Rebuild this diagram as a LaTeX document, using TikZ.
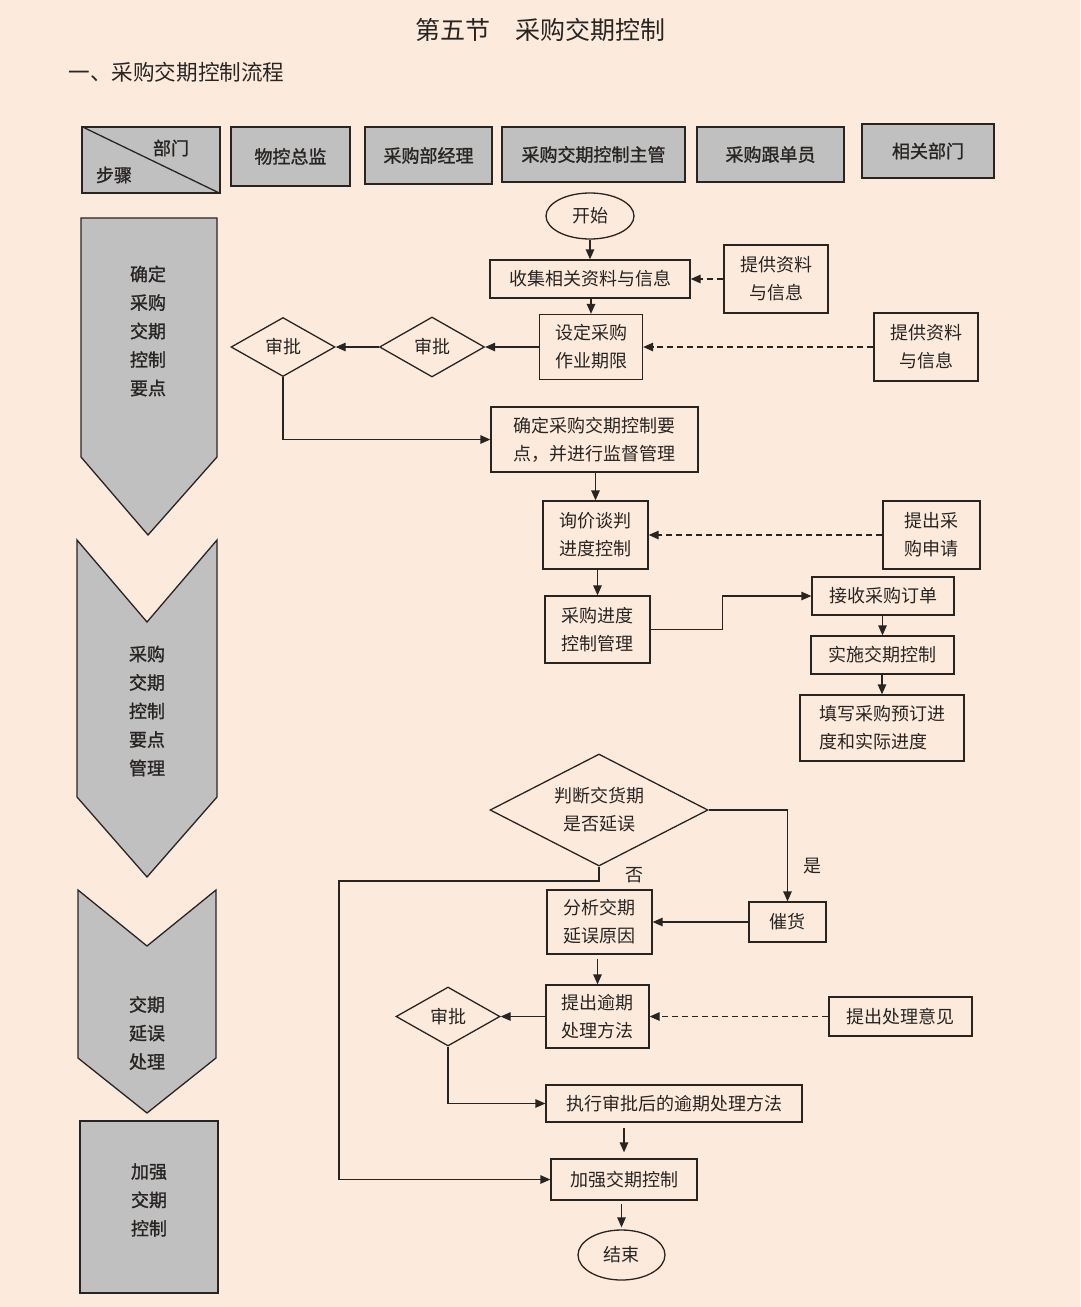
\documentclass[tikz,border=0pt]{standalone}
\usepackage{fontspec}
\newfontfamily\cjk{Noto Sans CJK SC}
\newfontfamily\cjkb{Noto Sans CJK SC}[FakeBold=1.2]
\usetikzlibrary{shapes.geometric,arrows.meta}
\definecolor{bg}{RGB}{252,235,221}
\definecolor{gr}{RGB}{192,192,192}
\definecolor{ln}{RGB}{40,36,34}
\begin{document}
\begin{tikzpicture}[x=1pt,y=-1pt,
  every node/.style={font=\cjk\fontsize{18}{28}\selectfont, text=ln},
  box/.style={draw=ln, line width=1.3pt, inner sep=0pt, align=center},
  hbox/.style={box, fill=gr, font=\cjkb\fontsize{18}{28}\selectfont},
  htxt/.style={font=\cjkb\fontsize{18}{22}\selectfont},
  dia/.style={diamond, draw=ln, line width=1.3pt, inner sep=0pt, aspect=1.75, align=center},
  term/.style={ellipse, draw=ln, line width=1.3pt, inner sep=0pt},
  lane/.style={draw=ln, line width=1.3pt, fill=gr},
  lanetxt/.style={align=center, font=\cjkb\fontsize{18}{28.5}\selectfont},
  arr/.style={draw=ln, line width=1.3pt, -{Triangle[length=10pt,width=8.5pt]}},
  darr/.style={arr, dash pattern=on 6pt off 4pt}
]
\fill[bg] (0,0) rectangle (1080,1307);
\useasboundingbox (0,0) rectangle (1080,1307);

% titles
\node (title) at (540,30) {\fontsize{25}{30}\selectfont 第五节　采购交期控制};
\node[anchor=west] (sub) at (65,72) {\fontsize{21.6}{26}\selectfont 一、采购交期控制流程};

% header row
\node[hbox, minimum width=138, minimum height=66] (h0) at (151,160) {};
\draw[line width=1.3pt, draw=ln] (h0.north west) -- (h0.south east);
\node[htxt] (bm) at (171,148) {部门};
\node[htxt] (bz) at (114,175) {步骤};
\node[hbox, minimum width=119, minimum height=59] (h1) at (290.5,156.5) {物控总监};
\node[hbox, minimum width=127, minimum height=57] (h2) at (428.5,155.5) {采购部经理};
\node[hbox, minimum width=183, minimum height=55] (h3) at (593.5,154.5) {采购交期控制主管};
\node[hbox, minimum width=147, minimum height=55] (h4) at (770.5,154.5) {采购跟单员};
\node[hbox, minimum width=132, minimum height=54] (h5) at (928,151) {相关部门};

% step lanes
\filldraw[lane] (81,218) -- (217,218) -- (217,457) -- (148,535) -- (81,457) -- cycle;
\node[lanetxt] (l1) at (148,331) {确定\\采购\\交期\\控制\\要点};
\filldraw[lane] (77,540) -- (147,622) -- (217,540) -- (217,797) -- (147,877) -- (77,797) -- cycle;
\node[lanetxt] (l2) at (147,711) {采购\\交期\\控制\\要点\\管理};
\filldraw[lane] (78,890) -- (147,946) -- (216,890) -- (216,1058) -- (147,1113) -- (78,1058) -- cycle;
\node[lanetxt] (l3) at (147,1033) {交期\\延误\\处理};
\filldraw[lane] (80,1121) rectangle (218,1293);
\node[lanetxt] (l4) at (149,1200) {加强\\交期\\控制};

% flow nodes
\node[term, minimum width=88, minimum height=46] (start) at (590,216) {开始};
\node[box, minimum width=200, minimum height=38] (shou) at (590,279) {收集相关资料与信息};
\node[box, minimum width=104, minimum height=68] (ti1) at (776,279) {提供资料\\与信息};
\node[box, minimum width=103, minimum height=65] (she) at (591,347) {设定采购\\作业期限};
\node[box, minimum width=104, minimum height=68] (ti2) at (926,347) {提供资料\\与信息};
\node[dia, minimum width=105, minimum height=60] (sp1) at (432,347) {审批};
\node[dia, minimum width=104, minimum height=59] (sp2) at (283,347) {审批};
\node[box, minimum width=207, minimum height=65] (que) at (594.5,439.5) {确定采购交期控制要\\点，并进行监督管理};
\node[box, minimum width=105, minimum height=68] (xun) at (595.5,535) {询价谈判\\进度控制};
\node[box, minimum width=97, minimum height=68] (ti3) at (931.5,535) {提出采\\购申请};
\node[box, minimum width=105, minimum height=67] (cg) at (597.5,629.5) {采购进度\\控制管理};
\node[box, minimum width=142, minimum height=38] (jie) at (883,596) {接收采购订单};
\node[box, minimum width=143, minimum height=38] (shi) at (882.5,655) {实施交期控制};
\node[box, minimum width=164, minimum height=66, align=left] (tian) at (882,728) {填写采购预订进\\度和实际进度};
\node[dia, minimum width=218, minimum height=112, aspect=1.95] (pan) at (599,810) {判断交货期\\是否延误};
\node[box, minimum width=77, minimum height=40] (cui) at (787.5,922) {催货};
\node[box, minimum width=105, minimum height=64] (fen) at (599.5,922) {分析交期\\延误原因};
\node[box, minimum width=103, minimum height=63] (tc) at (597.5,1016.5) {提出逾期\\处理方法};
\node[box, minimum width=143, minimum height=39] (yj) at (900.5,1016.5) {提出处理意见};
\node[dia, minimum width=104, minimum height=59] (sp3) at (448,1016.5) {审批};
\node[box, minimum width=256, minimum height=37] (zx) at (674,1103.5) {执行审批后的逾期处理方法};
\node[box, minimum width=146, minimum height=41] (jq) at (624,1179.5) {加强交期控制};
\node[term, minimum width=87, minimum height=50] (end) at (621.5,1255) {结束};
\node (yes) at (812,866) {是};
\node (no) at (634,875) {否};
\coordinate (nk) at (339,881);

% connectors
\draw[arr] (start.south) -- (shou.north);
\draw[darr] (ti1.west) -- (shou.east);
\draw[arr] (shou.south -| she.north) -- (she.north);
\draw[darr] (ti2.west) -- (she.east);
\draw[arr] (she.west) -- (sp1.east);
\draw[arr] (sp1.west) -- (sp2.east);
\draw[arr] (sp2.south) |- (que.west);
\draw[arr] (que.south -| xun.north) -- (xun.north);
\draw[darr] (ti3.west) -- (xun.east);
\draw[arr] (xun.south -| cg.north) -- (cg.north);
\draw[arr] (cg.east) -- ++(72,0) |- (jie.west);
\draw[arr] (jie.south -| shi.north) -- (shi.north);
\draw[arr] (shi.south -| tian.north) -- (tian.north);
\draw[arr] (pan.east) -| (cui.north);
\draw[arr] (cui.west) -- (fen.east);
\draw[arr] (pan.south) |- (nk) |- (jq.west);
\draw[arr, shorten <=4pt] (fen.south -| tc.north) -- (tc.north);
\draw[darr] (yj.west) -- (tc.east);
\draw[arr] (tc.west) -- (sp3.east);
\draw[arr] (sp3.south) |- (zx.west);
\draw[arr, shorten <=5pt, shorten >=6pt] (zx.south -| jq.north) -- (jq.north);
\draw[arr, shorten <=3pt, shorten >=2pt] (jq.south -| end.north) -- (end.north);
\end{tikzpicture}
\end{document}
